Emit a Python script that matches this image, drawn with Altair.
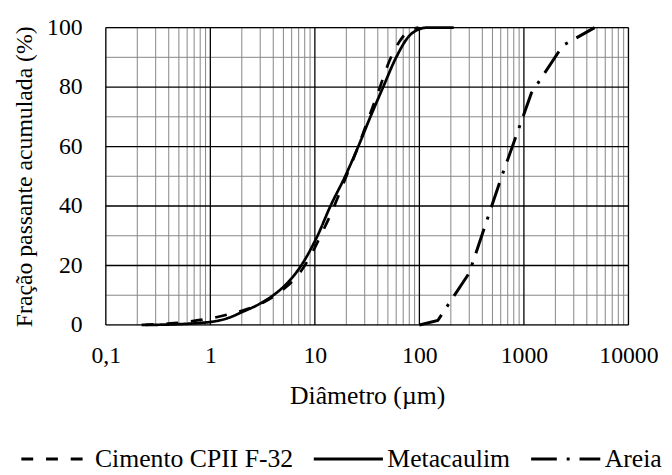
import altair as alt
import pandas as pd

# ---------------- data ----------------
series_names = ["Cimento CPII F-32", "Metacaulim", "Areia"]

cement_d = [0.22, 0.3, 0.45, 0.7, 1.0, 1.5, 2.0, 3.0, 4.0, 5.0, 6.2, 7.5, 9.0, 11.0, 14.5, 20, 26, 33, 41, 52, 65, 80, 98]
cement_p = [0, 0.2, 0.6, 1.4, 2.2, 3.6, 4.8, 7.0, 9.5, 12.0, 15.0, 18.5, 23.0, 29.0, 38.0, 50, 60, 70, 79, 89, 95.5, 99, 100]

meta_d = [0.24, 0.3, 0.4, 0.6, 0.8, 1.0, 1.5, 2.0, 3.0, 4.0, 5.0, 7.4, 10.6, 14.1, 19.5, 26, 34, 45, 60, 79, 100, 120, 150, 213]
meta_p = [0, 0.05, 0.15, 0.4, 0.7, 1.0, 2.4, 4.3, 7.2, 10, 12.8, 20, 30, 40, 50, 60, 70, 80, 90, 97, 99.5, 100, 100, 100]

sand_d = [100, 150, 300, 600, 1180, 2360, 4750]
sand_p = [0, 1.5, 17.5, 49, 78, 94, 100]

x_ticks = [0.1, 1, 10, 100, 1000, 10000]
x_tick_labels = ["0,1", "1", "10", "100", "1000", "10000"]
x_minor = [m * d for d in [0.1, 1, 10, 100, 1000] for m in range(2, 10)]
y_ticks = [0, 20, 40, 60, 80, 100]
y_minor = [10, 30, 50, 70, 90]

FONT = "Liberation Serif"

smooth_df = pd.DataFrame(
    {"d": cement_d + meta_d,
     "p": cement_p + meta_p,
     "serie": [series_names[0]] * len(cement_d) + [series_names[1]] * len(meta_d)}
)
sand_df = pd.DataFrame({"d": sand_d, "p": sand_p, "serie": [series_names[2]] * len(sand_d)})

xmaj_df = pd.DataFrame({"v": x_ticks})
xmin_df = pd.DataFrame({"v": x_minor})
ymaj_df = pd.DataFrame({"v": y_ticks})
ymin_df = pd.DataFrame({"v": y_minor})

xscale = alt.Scale(type="log", domain=[0.1, 10000], nice=False)
yscale = alt.Scale(domain=[0, 100], nice=False, zero=True)

# label expression built from the tick lists
expr = "''"
for v, lab in reversed(list(zip(x_ticks, x_tick_labels))):
    expr = f"abs(datum.value - {v}) < {v} * 0.01 ? '{lab}' : ({expr})"

dash_scale = alt.Scale(domain=series_names, range=[[12, 13], [1, 0], [26, 10, 3, 10]])
legend = alt.Legend(
    title=None, orient="none", direction="horizontal", legendX=-87, legendY=400,
    symbolType="stroke", symbolSize=4900, symbolStrokeWidth=3, symbolStrokeColor="black",
    labelFont=FONT, labelFontSize=26, labelColor="black", labelOffset=3, labelLimit=0,
    columnPadding=14, values=series_names,
)

x_axis = alt.Axis(
    values=x_ticks, labelExpr=expr, grid=False, ticks=False, domain=False,
    labelFont=FONT, labelFontSize=24, labelColor="black", labelPadding=19,
    labelFlush=False, labelOverlap=False,
    title="Diâmetro (µm)", titleFont=FONT, titleFontSize=26, titleFontWeight="normal",
    titleColor="black", titleX=264.5, titleY=72, titleBaseline="middle", titleAlign="center",
)
y_axis = alt.Axis(
    values=y_ticks, grid=False, ticks=False, domain=False, tickSize=0,
    labelFont=FONT, labelFontSize=24, labelColor="black", labelPadding=24,
    title="Fração passante acumulada (%)", titleFont=FONT, titleFontSize=24,
    titleFontWeight="normal", titleColor="black", titleAngle=270,
    titleX=-82, titleY=150.5, titleBaseline="middle", titleAlign="center",
)

xmin_rules = alt.Chart(xmin_df).mark_rule(color="#858585", strokeWidth=1).encode(
    x=alt.X("v:Q", scale=xscale, axis=x_axis))
ymin_rules = alt.Chart(ymin_df).mark_rule(color="#858585", strokeWidth=1).encode(
    y=alt.Y("v:Q", scale=yscale, axis=y_axis))
xmaj_rules = alt.Chart(xmaj_df).mark_rule(color="black", strokeWidth=1.3).encode(
    x=alt.X("v:Q", scale=xscale, axis=x_axis))
ymaj_rules = alt.Chart(ymaj_df).mark_rule(color="black", strokeWidth=1.3).encode(
    y=alt.Y("v:Q", scale=yscale, axis=y_axis))

smooth_lines = alt.Chart(smooth_df).mark_line(
    color="black", strokeWidth=2.75, interpolate="monotone", strokeCap="butt"
).encode(
    x=alt.X("d:Q", scale=xscale, axis=x_axis),
    y=alt.Y("p:Q", scale=yscale, axis=y_axis),
    strokeDash=alt.StrokeDash("serie:N", scale=dash_scale, legend=legend, sort=series_names),
    detail="serie:N",
)
sand_line = alt.Chart(sand_df).mark_line(
    color="black", strokeWidth=3, strokeCap="butt"
).encode(
    x=alt.X("d:Q", scale=xscale, axis=x_axis),
    y=alt.Y("p:Q", scale=yscale, axis=y_axis),
    strokeDash=alt.StrokeDash("serie:N", scale=dash_scale, legend=legend, sort=series_names),
    detail="serie:N",
)

chart = alt.layer(
    xmin_rules, ymin_rules, xmaj_rules, ymaj_rules, smooth_lines, sand_line
).properties(
    width=529, height=301,
    autosize=alt.AutoSizeParams(type="none"),
    padding={"left": 99, "top": 17, "right": 36, "bottom": 146},
).configure_view(
    stroke="black", strokeWidth=1.3
).configure(background="white")

chart.save("out.html", embed_options={"renderer": "svg", "actions": False})
